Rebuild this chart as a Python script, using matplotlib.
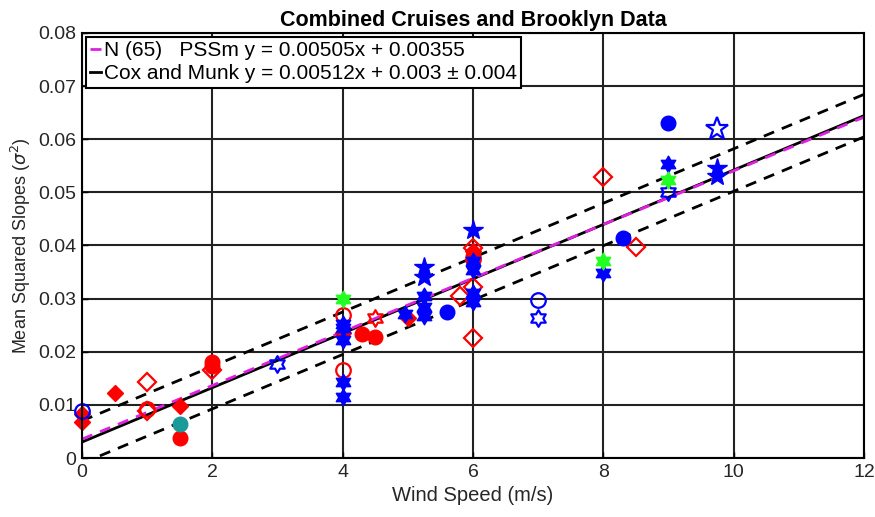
import numpy as np
import matplotlib
matplotlib.use("Agg")
import matplotlib.pyplot as plt
from matplotlib.path import Path

# ---- data ----
red_fill_circle_x = [1.5, 2.0, 2.0, 4.3, 4.5, 6.0]
red_fill_circle_y = [0.0038, 0.0180, 0.0173, 0.0233, 0.0227, 0.0380]

red_open_circle_x = [1.0, 4.0, 4.0, 6.0]
red_open_circle_y = [0.0093, 0.0270, 0.0165, 0.0375]

red_fill_diamond_x = [0.0, 0.0, 0.5, 1.5, 4.0, 5.0, 6.0]
red_fill_diamond_y = [0.0082, 0.0068, 0.0122, 0.0097, 0.0235, 0.0263, 0.0390]

red_open_diamond_x = [1.0, 1.0, 2.0, 5.8, 6.0, 6.0, 6.0, 8.0, 8.5]
red_open_diamond_y = [0.0143, 0.0088, 0.0165, 0.0305, 0.0322, 0.0225, 0.0395, 0.0528, 0.0398]

red_open_hex_x = [4.5]
red_open_hex_y = [0.0263]

blue_fill_hex_x = [4.0, 4.0, 4.0, 4.0, 4.0, 4.95, 5.25, 5.25, 5.25, 6.0, 6.0, 6.0, 6.0, 8.0, 9.0]
blue_fill_hex_y = [0.0253, 0.0244, 0.0222, 0.0144, 0.0115, 0.0272, 0.0305, 0.0284, 0.0267,
                   0.0370, 0.0354, 0.0310, 0.0294, 0.0348, 0.0553]

blue_fill_pent_x = [5.25, 5.25, 6.0, 9.75, 9.75]
blue_fill_pent_y = [0.0360, 0.0340, 0.0429, 0.0545, 0.0530]

blue_open_hex_x = [3.0, 7.0, 9.0]
blue_open_hex_y = [0.0177, 0.0263, 0.0501]

blue_open_pent_x = [9.75]
blue_open_pent_y = [0.0619]

blue_fill_circle_x = [5.6, 8.3, 9.0]
blue_fill_circle_y = [0.0275, 0.0415, 0.0630]

blue_open_circle_x = [0.0, 7.0]
blue_open_circle_y = [0.0088, 0.0297]

green_hex_x = [4.0, 8.0, 9.0]
green_hex_y = [0.0300, 0.0370, 0.0523]

teal_circle_x = [1.5]
teal_circle_y = [0.0064]

# fit lines
pss_slope, pss_icpt = 0.00505, 0.00355
cm_slope, cm_icpt, cm_err = 0.00512, 0.003, 0.004

# star of David marker
ang = np.pi / 2 + np.arange(12) * np.pi / 6
rad = np.where(np.arange(12) % 2 == 0, 1.0, 1 / np.sqrt(3))
verts = np.column_stack([rad * np.cos(ang), rad * np.sin(ang)])
hexagram = Path(np.vstack([verts, verts[:1]]), closed=True)

narrow = ["Liberation Sans Narrow", "Liberation Sans", "DejaVu Sans"]
plt.rcParams["font.family"] = ["Liberation Sans", "DejaVu Sans"]

fig = plt.figure(figsize=(8.75, 5.17), dpi=100)
ax = fig.add_axes([0.0937, 0.1141, 0.8937, 0.8221])

xx = np.array([0, 12])
ax.plot(xx, cm_slope * xx + cm_icpt, color="k", lw=2, zorder=3,
        label="Cox and Munk y = 0.00512x + 0.003 ± 0.004")
ax.plot(xx, cm_slope * xx + cm_icpt + cm_err, color="k", lw=2, ls=(0, (4, 3)), zorder=3)
ax.plot(xx, cm_slope * xx + cm_icpt - cm_err, color="k", lw=2, ls=(0, (4, 3)), zorder=3)
ax.plot(xx, pss_slope * xx + pss_icpt, color="#e020e0", lw=2, ls=(0, (4, 3)), zorder=4,
        label="N (65)   PSSm y = 0.00505x + 0.00355")

red = "#ff0000"
blue = "#0000ff"
ms = 10.5
kw = dict(ls="none", zorder=5, clip_on=False)
ax.plot(red_fill_diamond_x, red_fill_diamond_y, marker="D", ms=8.5, color=red, **kw)
ax.plot(red_open_diamond_x, red_open_diamond_y, marker="D", ms=9.5, mfc="none", mec=red, mew=1.6, **kw)
ax.plot(red_fill_circle_x, red_fill_circle_y, marker="o", ms=ms, color=red, **kw)
ax.plot(red_open_circle_x, red_open_circle_y, marker="o", ms=ms, mfc="none", mec=red, mew=1.6, **kw)
ax.plot(red_open_hex_x, red_open_hex_y, marker=hexagram, ms=12, mfc="none", mec=red, mew=1.6, **kw)
ax.plot(blue_fill_hex_x, blue_fill_hex_y, marker=hexagram, ms=12, color=blue, **kw)
ax.plot(blue_fill_pent_x, blue_fill_pent_y, marker="*", ms=15, color=blue, **kw)
ax.plot(blue_open_hex_x, blue_open_hex_y, marker=hexagram, ms=12, mfc="none", mec=blue, mew=1.6, **kw)
ax.plot(blue_open_pent_x, blue_open_pent_y, marker="*", ms=17, mfc="none", mec=blue, mew=1.6, **kw)
ax.plot(blue_fill_circle_x, blue_fill_circle_y, marker="o", ms=ms, color=blue, **kw)
ax.plot(blue_open_circle_x, blue_open_circle_y, marker="o", ms=ms, mfc="none", mec=blue, mew=1.6, **kw)
ax.plot(green_hex_x, green_hex_y, marker=hexagram, ms=12, color="#22ff22", **kw)
ax.plot(teal_circle_x, teal_circle_y, marker="o", ms=ms, color="#1b9a9a", **kw)

ax.set_xlim(0, 12)
ax.set_ylim(0, 0.08)
ax.set_xticks(np.arange(0, 13, 2))
ax.set_yticks(np.arange(0, 0.081, 0.01))
ax.set_yticklabels(["0"] + ["%.2f" % v for v in np.arange(0.01, 0.081, 0.01)])
ax.grid(True, color="#222222", lw=1.5)
ax.set_axisbelow(True)
for s in ax.spines.values():
    s.set_linewidth(1.5)
    s.set_zorder(6)
ax.tick_params(direction="in", length=4, width=1, labelsize=14, pad=4)
for lab in ax.get_xticklabels() + ax.get_yticklabels():
    lab.set_family(narrow)
    lab.set_color("#262626")

ax.set_title("Combined Cruises and Brooklyn Data", fontsize=15.5, fontweight="bold",
             family=narrow, pad=5)
ax.set_xlabel("Wind Speed (m/s)", fontsize=14.5, family=narrow, color="#262626")
ax.set_ylabel(r"Mean Squared Slopes ($\sigma^2$)", fontsize=13, color="#262626")

h, l = ax.get_legend_handles_labels()
leg = ax.legend(h[::-1], l[::-1], loc="upper left", fontsize=15, handlelength=0.5,
                handletextpad=0.15, borderpad=0.2, labelspacing=0.2, borderaxespad=0.2,
                fancybox=False, edgecolor="k", framealpha=1)
leg.get_frame().set_linewidth(1.5)
leg.set_zorder(7)

fig.savefig("out.png", dpi=100)
